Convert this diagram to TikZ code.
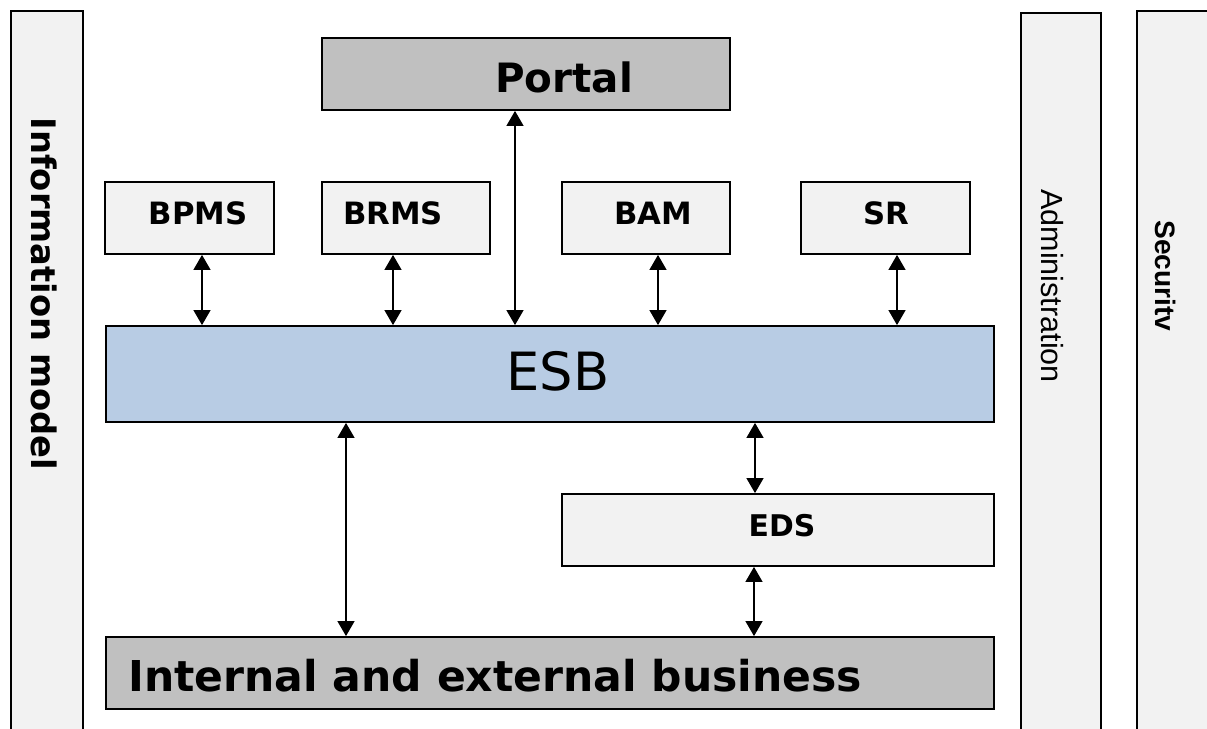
\documentclass[tikz,border=0pt]{standalone}
\usepackage{fontspec}
\setmainfont{DejaVu Sans}
\newfontfamily\arialfont{Liberation Sans}
\usetikzlibrary{arrows.meta,calc}
\definecolor{lightfill}{HTML}{F2F2F2}
\definecolor{midfill}{HTML}{C0C0C0}
\definecolor{esbfill}{HTML}{B8CCE4}

\begin{document}
\begin{tikzpicture}[x=0.02cm,y=-0.02cm]
\tikzstyle{every node}=[inner sep=0pt];
\tikzstyle{box}=[draw=black,line width=1pt,rectangle];
\tikzstyle{small}=[box,fill=lightfill,minimum width=3.37cm,minimum height=1.44cm];
\tikzstyle{lbl}=[font=\bfseries\fontsize{17.5}{20}\selectfont];
\tikzstyle{link}=[{Triangle[width=9.5pt,length=8.5pt]}-{Triangle[width=9.5pt,length=8.5pt]},line width=1.1pt];
\useasboundingbox (0,0) rectangle (1207,729);
\clip (0,0) rectangle (1207,729);

% side columns
\node[box,fill=lightfill,anchor=north west,minimum width=1.44cm,minimum height=16cm] (info) at (10,10) {};
\node[rotate=-90,font=\bfseries\fontsize{19.2}{22}\selectfont] (infotxt) at (44,294) {Information model};
\node[box,fill=lightfill,anchor=north west,minimum width=1.6cm,minimum height=16cm] (admin) at (1020,12) {};
\node[rotate=-90,font=\arialfont\fontsize{17.4}{20}\selectfont] (admintxt) at (1052,286) {Administration};
\node[box,fill=lightfill,anchor=north west,minimum width=2.4cm,minimum height=16cm] (sec) at (1136,10) {};
\node[rotate=-90,font=\arialfont\bfseries\fontsize{16}{20}\selectfont] (sectxt) at (1166,276) {Securitv};

% top row
\node[box,fill=midfill,minimum width=8.16cm,minimum height=1.44cm] (portal) at (526,74) {};
\node[font=\bfseries\fontsize{23}{26}\selectfont] (portaltxt) at (564,77) {Portal};
\node[small] (bpms) at (189.5,218) {};
\node[lbl] (bpmstxt) at (198,213) {BPMS};
\node[small] (brms) at (406,218) {};
\node[lbl] (brmstxt) at (393,213) {BRMS};
\node[small] (bam) at (646,218) {};
\node[lbl] (bamtxt) at (653,213) {BAM};
\node[small] (sr) at (885.5,218) {};
\node[lbl] (srtxt) at (886,213) {SR};

% bus
\node[box,fill=esbfill,minimum width=17.76cm,minimum height=1.92cm] (esb) at (550,374) {};
\node[font=\fontsize{30}{34}\selectfont] (esbtxt) at (558,371) {ESB};

% bottom
\node[box,fill=lightfill,minimum width=8.64cm,minimum height=1.44cm] (eds) at (778,530) {};
\node[lbl,font=\bfseries\fontsize{17}{20}\selectfont] (edstxt) at (782,526) {EDS};
\node[box,fill=midfill,minimum width=17.76cm,minimum height=1.44cm] (internal) at (550,673) {};
\node[anchor=west,font=\bfseries\fontsize{24.2}{28}\selectfont] (internaltxt) at (128,676) {Internal and external business};

% connectors
\foreach \n/\dx in {bpms/12.5,brms/-13,portal/-11,bam/12,sr/11.5}
  \draw[link] ($(\n.south)+(\dx,0)$) coordinate (up) -- (up |- esb.north);
\draw[link] ($(esb.south)+(-204,0)$) coordinate (a) -- (a |- internal.north);
\draw[link] ($(eds.north)+(-23,0)$) coordinate (b) -- (b |- esb.south);
\draw[link] ($(eds.south)+(-24,0)$) coordinate (c) -- (c |- internal.north);
\end{tikzpicture}
\end{document}
